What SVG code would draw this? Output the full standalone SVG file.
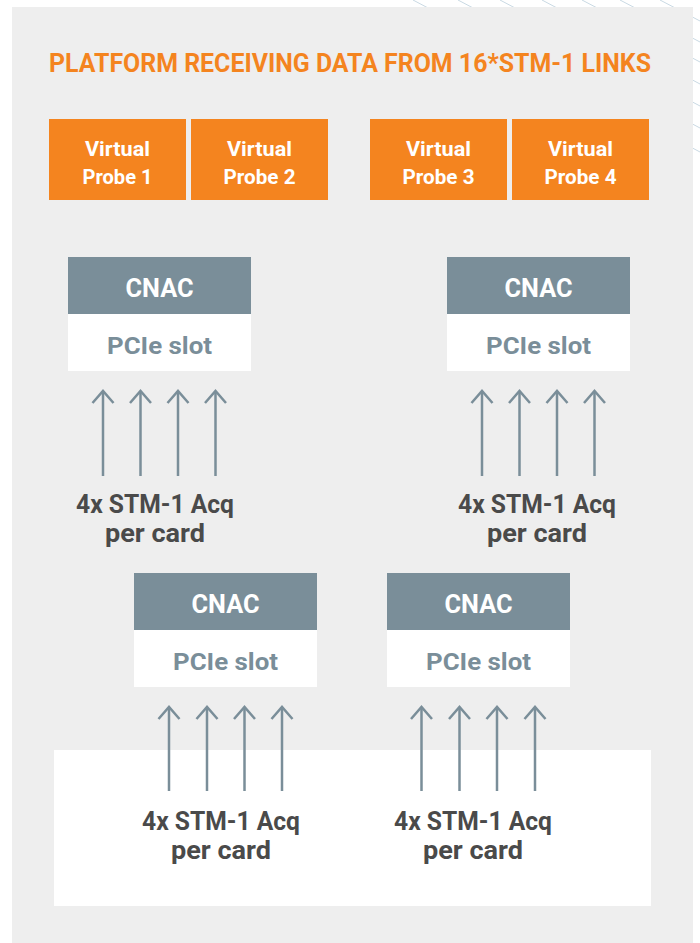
<svg xmlns="http://www.w3.org/2000/svg" width="700" height="943" viewBox="0 0 700 943">
  <defs>
    <style>
      .deco { stroke: #C9D9E3; stroke-width: 1; }
      .probe rect { fill: #F4841F; }
      .probe text { fill: #FFFFFF; font-family: Roboto, "Liberation Sans", sans-serif; font-weight: 700; font-size: 21px; text-anchor: middle; }
      .cnac-top { fill: #7A8E99; }
      .cnac-bot { fill: #FFFFFF; }
      .cnac-title { fill: #FFFFFF; font-family: Roboto, "Liberation Sans", sans-serif; font-weight: 700; font-size: 25px; text-anchor: middle; }
      .slot { fill: #7A8E99; font-family: Roboto, "Liberation Sans", sans-serif; font-weight: 700; font-size: 24.5px; text-anchor: middle; }
      .acq { fill: #4A4A4A; font-family: Roboto, "Liberation Sans", sans-serif; font-weight: 700; font-size: 25px; text-anchor: middle; }
      .title { fill: #F4841F; font-family: Roboto, "Liberation Sans", sans-serif; font-weight: 700; font-size: 26px; }
      .arrow { stroke: #7A8E99; stroke-width: 2.5; fill: none; marker-end: url(#ah); }
    </style>
    <marker id="ah" viewBox="-15 -13 17 26" markerWidth="17" markerHeight="26" refX="0" refY="0" orient="auto" markerUnits="userSpaceOnUse">
      <path d="M-12,-10.5 L0,0 L-12,10.5" fill="none" stroke="#7A8E99" stroke-width="2.5"/>
    </marker>
  </defs>

  <g id="background">
    <line class="deco" x1="413" y1="0" x2="700" y2="152"/>
    <line class="deco" x1="458" y1="0" x2="700" y2="128"/>
    <line class="deco" x1="500" y1="0" x2="700" y2="106"/>
    <line class="deco" x1="542" y1="0" x2="700" y2="84"/>
    <line class="deco" x1="582" y1="0" x2="700" y2="62"/>
    <line class="deco" x1="620" y1="0" x2="700" y2="42"/>
    <line class="deco" x1="660" y1="0" x2="700" y2="21"/>
    <rect x="12" y="7" width="681" height="936" fill="#EEEEEE"/>
    <rect x="54" y="750" width="597" height="156" fill="#FFFFFF"/>
    <text class="title" x="49" y="72" textLength="602" lengthAdjust="spacingAndGlyphs">PLATFORM RECEIVING DATA FROM 16*STM-1 LINKS</text>
  </g>

  <g id="probe1" class="probe">
    <rect x="49" y="119" width="137" height="81"/>
    <text x="117.5" y="156" textLength="65" lengthAdjust="spacingAndGlyphs">Virtual</text>
    <text x="117.5" y="184" textLength="70" lengthAdjust="spacingAndGlyphs">Probe 1</text>
  </g>
  <g id="probe2" class="probe">
    <rect x="191" y="119" width="137" height="81"/>
    <text x="259.5" y="156" textLength="65" lengthAdjust="spacingAndGlyphs">Virtual</text>
    <text x="259.5" y="184" textLength="72" lengthAdjust="spacingAndGlyphs">Probe 2</text>
  </g>
  <g id="probe3" class="probe">
    <rect x="370" y="119" width="137" height="81"/>
    <text x="438.5" y="156" textLength="65" lengthAdjust="spacingAndGlyphs">Virtual</text>
    <text x="438.5" y="184" textLength="72" lengthAdjust="spacingAndGlyphs">Probe 3</text>
  </g>
  <g id="probe4" class="probe">
    <rect x="512" y="119" width="137" height="81"/>
    <text x="580.5" y="156" textLength="65" lengthAdjust="spacingAndGlyphs">Virtual</text>
    <text x="580.5" y="184" textLength="72" lengthAdjust="spacingAndGlyphs">Probe 4</text>
  </g>

  <g id="cnac1">
    <rect class="cnac-top" x="68" y="257" width="183" height="57"/>
    <rect class="cnac-bot" x="68" y="314" width="183" height="57"/>
    <text class="cnac-title" x="159.5" y="297" textLength="68" lengthAdjust="spacingAndGlyphs">CNAC</text>
    <text class="slot" x="159.5" y="354" textLength="105" lengthAdjust="spacingAndGlyphs">PCIe slot</text>
  </g>
  <g id="cnac2">
    <rect class="cnac-top" x="447" y="257" width="183" height="57"/>
    <rect class="cnac-bot" x="447" y="314" width="183" height="57"/>
    <text class="cnac-title" x="538.5" y="297" textLength="68" lengthAdjust="spacingAndGlyphs">CNAC</text>
    <text class="slot" x="538.5" y="354" textLength="105" lengthAdjust="spacingAndGlyphs">PCIe slot</text>
  </g>
  <g id="cnac3">
    <rect class="cnac-top" x="134" y="573" width="183" height="57"/>
    <rect class="cnac-bot" x="134" y="630" width="183" height="57"/>
    <text class="cnac-title" x="225.5" y="613" textLength="68" lengthAdjust="spacingAndGlyphs">CNAC</text>
    <text class="slot" x="225.5" y="670" textLength="105" lengthAdjust="spacingAndGlyphs">PCIe slot</text>
  </g>
  <g id="cnac4">
    <rect class="cnac-top" x="387" y="573" width="183" height="57"/>
    <rect class="cnac-bot" x="387" y="630" width="183" height="57"/>
    <text class="cnac-title" x="478.5" y="613" textLength="68" lengthAdjust="spacingAndGlyphs">CNAC</text>
    <text class="slot" x="478.5" y="670" textLength="105" lengthAdjust="spacingAndGlyphs">PCIe slot</text>
  </g>

  <g id="acq1">
    <text class="acq" x="155" y="513" textLength="158" lengthAdjust="spacingAndGlyphs">4x STM-1 Acq</text>
    <text class="acq" x="155" y="542" textLength="100" lengthAdjust="spacingAndGlyphs">per card</text>
  </g>
  <g id="acq2">
    <text class="acq" x="537" y="513" textLength="158" lengthAdjust="spacingAndGlyphs">4x STM-1 Acq</text>
    <text class="acq" x="537" y="542" textLength="100" lengthAdjust="spacingAndGlyphs">per card</text>
  </g>
  <g id="acq3">
    <text class="acq" x="221" y="830" textLength="158" lengthAdjust="spacingAndGlyphs">4x STM-1 Acq</text>
    <text class="acq" x="221" y="859" textLength="100" lengthAdjust="spacingAndGlyphs">per card</text>
  </g>
  <g id="acq4">
    <text class="acq" x="473" y="830" textLength="158" lengthAdjust="spacingAndGlyphs">4x STM-1 Acq</text>
    <text class="acq" x="473" y="859" textLength="100" lengthAdjust="spacingAndGlyphs">per card</text>
  </g>

  <g id="connectors">
    <line class="arrow" x1="103" y1="476" x2="103" y2="391"/>
    <line class="arrow" x1="140.5" y1="476" x2="140.5" y2="391"/>
    <line class="arrow" x1="178" y1="476" x2="178" y2="391"/>
    <line class="arrow" x1="215.5" y1="476" x2="215.5" y2="391"/>

    <line class="arrow" x1="482" y1="476" x2="482" y2="391"/>
    <line class="arrow" x1="519.5" y1="476" x2="519.5" y2="391"/>
    <line class="arrow" x1="557" y1="476" x2="557" y2="391"/>
    <line class="arrow" x1="594.5" y1="476" x2="594.5" y2="391"/>

    <line class="arrow" x1="169" y1="791" x2="169" y2="707"/>
    <line class="arrow" x1="207" y1="791" x2="207" y2="707"/>
    <line class="arrow" x1="244.5" y1="791" x2="244.5" y2="707"/>
    <line class="arrow" x1="282" y1="791" x2="282" y2="707"/>

    <line class="arrow" x1="421.5" y1="791" x2="421.5" y2="707"/>
    <line class="arrow" x1="459.5" y1="791" x2="459.5" y2="707"/>
    <line class="arrow" x1="497" y1="791" x2="497" y2="707"/>
    <line class="arrow" x1="535" y1="791" x2="535" y2="707"/>
  </g>
</svg>
